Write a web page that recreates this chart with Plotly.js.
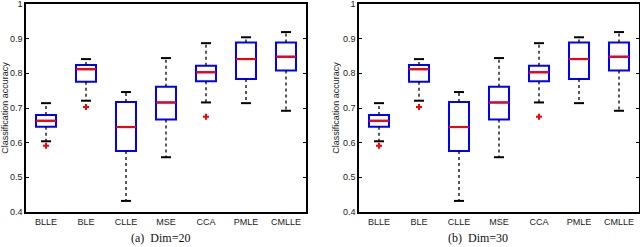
<!DOCTYPE html>
<html>
<head>
<meta charset="utf-8">
<script src="https://cdn.plot.ly/plotly-3.0.1.min.js"></script>
<style>html,body{margin:0;padding:0;background:#fff}#chart{width:640px;height:247px}</style>
</head>
<body>
<div id="chart"></div>
<script>
// ---- data ----
const categories = ["BLLE", "BLE", "CLLE", "MSE", "CCA", "PMLE", "CMLLE"];
const yTickVals = [0.4, 0.5, 0.6, 0.7, 0.8, 0.9, 1];
const yTickText = ["0.4", "0.5", "0.6", "0.7", "0.8", "0.9", "1"];

// Dim=20
const d20_lower  = [0.604, 0.721, 0.432, 0.558, 0.716, 0.714, 0.692];
const d20_q1     = [0.646, 0.776, 0.576, 0.667, 0.777, 0.784, 0.808];
const d20_median = [0.663, 0.812, 0.645, 0.716, 0.803, 0.841, 0.848];
const d20_q3     = [0.680, 0.824, 0.717, 0.761, 0.822, 0.889, 0.889];
const d20_upper  = [0.714, 0.841, 0.746, 0.844, 0.887, 0.904, 0.919];
const d20_outlierCat = ["BLLE", "BLE", "CCA"];
const d20_outlierVal = [0.591, 0.703, 0.675];

// Dim=30
const d30_lower  = [0.604, 0.721, 0.432, 0.558, 0.716, 0.714, 0.692];
const d30_q1     = [0.646, 0.776, 0.576, 0.667, 0.777, 0.784, 0.808];
const d30_median = [0.663, 0.812, 0.645, 0.716, 0.803, 0.841, 0.848];
const d30_q3     = [0.680, 0.824, 0.717, 0.761, 0.822, 0.889, 0.889];
const d30_upper  = [0.714, 0.841, 0.746, 0.844, 0.887, 0.904, 0.919];
const d30_outlierCat = ["BLLE", "BLE", "CCA"];
const d30_outlierVal = [0.591, 0.703, 0.675];

const captions = ["(a)  Dim=20", "(b)  Dim=30"];
const yTitle = "Classification accuracy";

// ---- build ----
const BOXW = 0.5, CAPW = 0.25;
const idx = categories.map((_, i) => i);

function makeTraces(lower, q1, med, q3, upper, oCat, oVal, xa, ya) {
  const traces = [];
  traces.push({
    type: 'box', x: idx, q1: q1, median: med, q3: q3,
    lowerfence: q1, upperfence: q3, width: BOXW, whiskerwidth: 0,
    line: {color: '#0000ff', width: 2}, fillcolor: 'rgba(255,255,255,0)',
    xaxis: xa, yaxis: ya, showlegend: false, hoverinfo: 'skip'
  });
  const wx = [], wy = [], cx = [], cy = [], mx = [], my = [];
  idx.forEach(i => {
    wx.push(i, i, null, i, i, null);
    wy.push(q3[i], upper[i], null, q1[i], lower[i], null);
    cx.push(i - CAPW / 2, i + CAPW / 2, null, i - CAPW / 2, i + CAPW / 2, null);
    cy.push(upper[i], upper[i], null, lower[i], lower[i], null);
    mx.push(i - BOXW / 2, i + BOXW / 2, null);
    my.push(med[i], med[i], null);
  });
  traces.push({type: 'scatter', mode: 'lines', x: wx, y: wy, line: {color: '#000', width: 1.3, dash: 'dot'},
    xaxis: xa, yaxis: ya, showlegend: false, hoverinfo: 'skip'});
  traces.push({type: 'scatter', mode: 'lines', x: cx, y: cy, line: {color: '#000', width: 2},
    xaxis: xa, yaxis: ya, showlegend: false, hoverinfo: 'skip'});
  traces.push({type: 'scatter', mode: 'lines', x: mx, y: my, line: {color: '#ff0000', width: 2},
    xaxis: xa, yaxis: ya, showlegend: false, hoverinfo: 'skip'});
  traces.push({type: 'scatter', mode: 'markers', x: oCat.map(c => categories.indexOf(c)), y: oVal,
    marker: {symbol: 'cross', size: 5, color: '#ff0000'},
    xaxis: xa, yaxis: ya, showlegend: false, hoverinfo: 'skip'});
  return traces;
}

const data = [].concat(
  makeTraces(d20_lower, d20_q1, d20_median, d20_q3, d20_upper, d20_outlierCat, d20_outlierVal, 'x', 'y'),
  makeTraces(d30_lower, d30_q1, d30_median, d30_q3, d30_upper, d30_outlierCat, d30_outlierVal, 'x2', 'y2')
);

const W = 640, H = 247;
const tickFont = {family: 'Liberation Sans, Arial, sans-serif', size: 9, color: '#222'};
function xAxis(l, r, anchor) {
  return {domain: [l / W, r / W], anchor: anchor, range: [-0.5, 6.5],
    tickmode: 'array', tickvals: idx, ticktext: categories, ticks: '',
    showline: true, linecolor: '#000', linewidth: 1.8, mirror: true,
    showgrid: false, zeroline: false, tickfont: tickFont, automargin: false};
}
function yAxis(anchor) {
  return {domain: [(H - 212) / H, (H - 4) / H], anchor: anchor, range: [0.4, 1],
    tickmode: 'array', tickvals: yTickVals, ticktext: yTickText,
    ticks: 'inside', ticklen: 3, tickcolor: '#000', tickwidth: 1,
    showline: true, linecolor: '#000', linewidth: 1.8, mirror: 'ticks',
    showgrid: false, zeroline: false, tickfont: tickFont, automargin: false,
    ticklabeloverflow: 'allow',
    title: {text: yTitle, font: {family: 'Liberation Sans, Arial, sans-serif', size: 9, color: '#222'}, standoff: 2}};
}

const capFont = {family: 'Liberation Serif, Times New Roman, serif', size: 12, color: '#111'};
const layout = {
  width: W, height: H, margin: {l: 0, r: 0, t: 0, b: 0},
  paper_bgcolor: '#fff', plot_bgcolor: '#fff', showlegend: false,
  xaxis: xAxis(26, 306, 'y'), yaxis: yAxis('x'),
  xaxis2: xAxis(359, 639, 'y2'), yaxis2: yAxis('x2'),
  annotations: [
    {text: captions[0], x: 160 / W, y: (H - 238) / H, xref: 'paper', yref: 'paper', showarrow: false,
     xanchor: 'center', yanchor: 'middle', font: capFont},
    {text: captions[1], x: 478 / W, y: (H - 238) / H, xref: 'paper', yref: 'paper', showarrow: false,
     xanchor: 'center', yanchor: 'middle', font: capFont}
  ]
};

Plotly.newPlot('chart', data, layout, {staticPlot: true, displayModeBar: false});
</script>
</body>
</html>
